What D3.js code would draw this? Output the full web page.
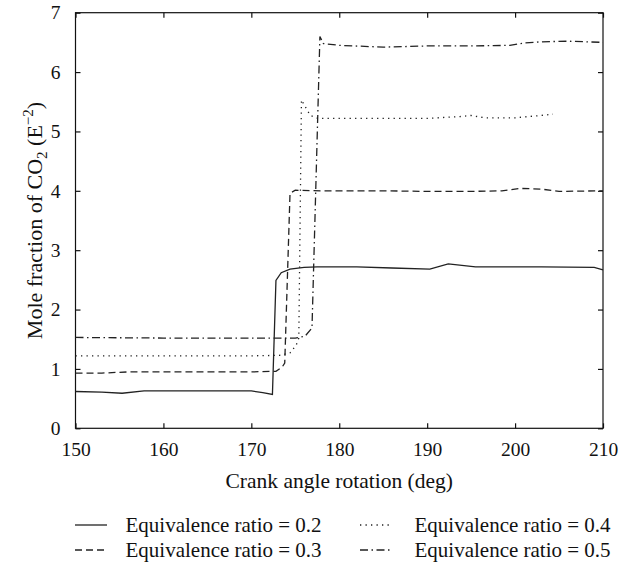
<!DOCTYPE html>
<html>
<head>
<meta charset="utf-8">
<script src="https://cdn.jsdelivr.net/npm/d3@7"></script>
<style>
  body { margin: 0; background: #fff; }
  .axis path { display: none; }
  .axis line { stroke: #111; stroke-width: 1.2; }
</style>
</head>
<body>
<svg id="chart" width="631" height="567"></svg>
<script>
// ---------- data ----------
const X_TICKS = [150, 160, 170, 180, 190, 200, 210];
const Y_TICKS = [0, 1, 2, 3, 4, 5, 6, 7];

const ER02_X = [150, 153, 155.3, 157.8, 165, 170, 171.3, 172.4, 172.8, 173.4, 174.4, 176, 177.5, 182, 186, 190.3, 192.4, 195.5, 203, 209, 210];
const ER02_Y = [0.62, 0.61, 0.59, 0.63, 0.63, 0.63, 0.60, 0.57, 2.49, 2.62, 2.68, 2.71, 2.72, 2.72, 2.70, 2.68, 2.77, 2.72, 2.72, 2.71, 2.67];

const ER03_X = [150, 153, 156, 160, 170, 172.8, 173.5, 173.8, 174.4, 175.0, 178, 185, 190, 195, 198.5, 200.6, 202.9, 205, 210];
const ER03_Y = [0.93, 0.93, 0.95, 0.95, 0.95, 0.96, 1.03, 1.10, 3.96, 4.01, 4.00, 4.00, 3.99, 3.99, 4.00, 4.04, 4.03, 3.99, 4.00];

const ER04_X = [150, 160, 170, 173.3, 174.4, 175.1, 175.4, 175.7, 176.7, 177.6, 185, 190, 193.7, 195, 196.5, 200, 203, 204.3];
const ER04_Y = [1.22, 1.22, 1.22, 1.23, 1.27, 1.40, 1.52, 5.53, 5.27, 5.22, 5.22, 5.22, 5.25, 5.27, 5.23, 5.23, 5.27, 5.29];

const ER05_X = [150, 160, 170, 175, 176.1, 176.9, 177.8, 178.2, 180, 185, 190, 195, 199.4, 201, 203, 206, 210];
const ER05_Y = [1.53, 1.52, 1.52, 1.52, 1.55, 1.69, 6.60, 6.48, 6.45, 6.42, 6.44, 6.44, 6.45, 6.49, 6.51, 6.52, 6.50];

const SERIES = [
  { label: "Equivalence ratio = 0.2", xs: ER02_X, ys: ER02_Y, dash: null },
  { label: "Equivalence ratio = 0.3", xs: ER03_X, ys: ER03_Y, dash: "7,4" },
  { label: "Equivalence ratio = 0.4", xs: ER04_X, ys: ER04_Y, dash: "1.3,4.2" },
  { label: "Equivalence ratio = 0.5", xs: ER05_X, ys: ER05_Y, dash: "8,3.5,1.5,3.5" }
];

const FONT = "'Liberation Serif', 'Times New Roman', 'DejaVu Serif', serif";

// ---------- layout ----------
const svg = d3.select("#chart").style("font-family", FONT);
const margin = { top: 12.7, right: 28, bottom: 138.7, left: 75.5 };
const W = 631, H = 567;
const innerW = W - margin.left - margin.right;
const innerH = H - margin.top - margin.bottom;

const x = d3.scaleLinear().domain([150, 210]).range([0, innerW]);
const y = d3.scaleLinear().domain([0, 7]).range([innerH, 0]);

const root = svg.append("g").attr("transform", `translate(${margin.left},${margin.top})`);

// frame
root.append("rect")
  .attr("width", innerW).attr("height", innerH)
  .attr("fill", "none").attr("stroke", "#111").attr("stroke-width", 1.2);

// axes (ticks pointing inward)
function styleAxis(g) {
  g.attr("font-family", FONT).attr("font-size", 19.5);
  g.selectAll("text").attr("fill", "#111");
}
root.append("g").attr("class", "axis")
  .attr("transform", `translate(0,${innerH})`)
  .call(d3.axisBottom(x).tickValues(X_TICKS).tickSize(-5).tickPadding(14).tickFormat(d3.format("d")))
  .call(styleAxis);
root.append("g").attr("class", "axis")
  .call(d3.axisTop(x).tickValues(X_TICKS).tickSize(-5).tickFormat(""));
root.append("g").attr("class", "axis")
  .call(d3.axisLeft(y).tickValues(Y_TICKS).tickSize(-5).tickPadding(15).tickFormat(d3.format("d")))
  .call(styleAxis);
root.append("g").attr("class", "axis")
  .attr("transform", `translate(${innerW},0)`)
  .call(d3.axisRight(y).tickValues(Y_TICKS).tickSize(-5).tickFormat(""));

// lines
const line = d3.line().x(d => x(d[0])).y(d => y(d[1]));
SERIES.forEach(s => {
  const pts = s.xs.map((v, i) => [v, s.ys[i]]);
  root.append("path")
    .datum(pts)
    .attr("d", line)
    .attr("fill", "none")
    .attr("stroke", "#222")
    .attr("stroke-width", 1.3)
    .attr("stroke-dasharray", s.dash);
});

// axis titles
svg.append("text")
  .attr("x", margin.left + innerW / 2).attr("y", 488)
  .attr("text-anchor", "middle").attr("font-size", 21.5).attr("fill", "#111")
  .text("Crank angle rotation (deg)");

const yt = svg.append("text")
  .attr("transform", `translate(42,${margin.top + innerH / 2}) rotate(-90)`)
  .attr("text-anchor", "middle").attr("font-size", 22).attr("fill", "#111");
yt.append("tspan").text("Mole fraction of CO");
yt.append("tspan").attr("font-size", 15).attr("dy", 5).text("2");
yt.append("tspan").attr("dy", -5).text(" (E");
yt.append("tspan").attr("font-size", 15).attr("dy", -9).text("\u22122");
yt.append("tspan").attr("dy", 9).text(")");

// legend
const legendPos = [
  { lx: 75, tx: 125.5, ly: 525 },
  { lx: 75, tx: 125.5, ly: 550 },
  { lx: 360, tx: 414.5, ly: 525 },
  { lx: 360, tx: 414.5, ly: 550 }
];
SERIES.forEach((s, i) => {
  const p = legendPos[i];
  svg.append("line")
    .attr("x1", p.lx).attr("x2", p.lx + 32)
    .attr("y1", p.ly).attr("y2", p.ly)
    .attr("stroke", "#222").attr("stroke-width", 1.3)
    .attr("stroke-dasharray", s.dash);
  svg.append("text")
    .attr("x", p.tx).attr("y", p.ly + 7)
    .attr("font-size", 21).attr("fill", "#111")
    .text(s.label);
});
</script>
</body>
</html>
